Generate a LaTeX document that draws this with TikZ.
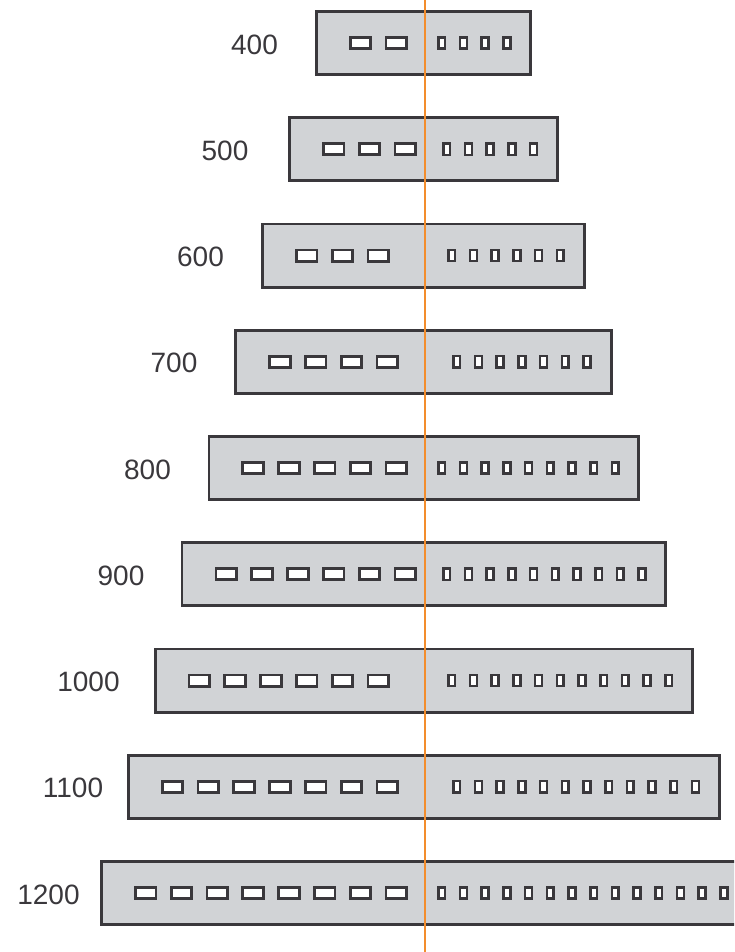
\documentclass[tikz,border=0pt]{standalone}
\usepackage{fontspec}
\setmainfont{Liberation Sans}
\usetikzlibrary{positioning}

\definecolor{panelgray}{RGB}{209,211,214}
\definecolor{edgegray}{RGB}{58,56,60}
\definecolor{axisorange}{RGB}{243,141,45}

\begin{document}
\begin{tikzpicture}[
    x=1pt, y=-1pt,
    panel/.style={
        rectangle,
        draw=edgegray,
        fill=panelgray,
        line width=2.8pt,
        inner sep=0pt,
        minimum height=63.2pt
        },
    wideslot/.style={
        draw=edgegray,
        fill=white,
        line width=2.8pt
        },
    narrowslot/.style={
        draw=edgegray,
        fill=white,
        line width=2.6pt
        },
    sizetext/.style={
        inner sep=0pt,
        text=edgegray,
        font=\fontsize{28}{32}\selectfont
        },
    axis/.style={
        draw=axisorange,
        line width=2.8pt
        },
]

\useasboundingbox (0,0) rectangle (734,952);
\clip (0,0) rectangle (734,952);

% one row per size: value/row/wide count/wide end/narrow count/narrow start/label x
\foreach \v/\k/\nl/\le/\ns/\ss/\lx in {
    400/0/2/408/4/437/254.5,
    500/1/3/417/5/442/225,
    600/2/3/390/6/447/200.5,
    700/3/4/399/7/452/174,
    800/4/5/408/9/437/147.5,
    900/5/6/417/10/442/121,
    1000/6/6/390/11/447/88.5,
    1100/7/7/399/12/452/73,
    1200/8/8/408/14/437/48.5}{
    \pgfmathsetmacro\yc{43+106.25*\k}
    \pgfmathsetmacro\xl{316.4-26.875*\k}
    \pgfmathsetmacro\xr{530.6+27*\k}
    \pgfmathsetmacro\panelw{\xr-\xl}
    \node[panel, minimum width=\panelw pt](row\v) at ({(\xl+\xr)/2},\yc){};
    \node[sizetext](lab\v) at (\lx,\yc+1.5){\v};
    % wide slots, left half
    \foreach \i in {1,...,\nl}{
        \pgfmathsetmacro\sx{\le-(\nl-\i)*35.8-23.5}
        \draw[wideslot] (\sx+1.4,\yc-5.6) rectangle ++(20.7,11.2);
    }
    % narrow slots, right half
    \foreach \i in {1,...,\ns}{
        \pgfmathsetmacro\sx{\ss+(\i-1)*21.7}
        \draw[narrowslot] (\sx+1.3,\yc-5.6) rectangle ++(6.8,11.2);
    }
}

\coordinate (top) at (425,0);
\coordinate (bottom) at (425,952);
\draw[axis] (top) -- (bottom);

\end{tikzpicture}
\end{document}
